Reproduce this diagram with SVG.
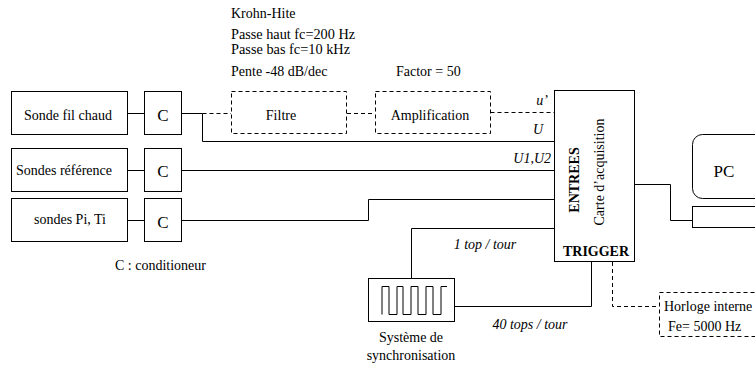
<svg xmlns="http://www.w3.org/2000/svg" width="755" height="366" viewBox="0 0 755 366">
<style>
  text { font-family: "Liberation Serif", "Times New Roman", serif; font-size: 14px; fill: #000; }
  .box { fill: #fff; stroke: #000; stroke-width: 1; }
  .dbox { fill: none; stroke: #000; stroke-width: 1; stroke-dasharray: 4,3; }
  .ln { fill: none; stroke: #000; stroke-width: 1; }
  .dl { fill: none; stroke: #000; stroke-width: 1; stroke-dasharray: 4,3; }
  .mid { text-anchor: middle; }
  .it { font-style: italic; }
  .bd { font-weight: bold; }
  .big { font-size: 17px; }
  .tight { font-size: 13.6px; }
</style>
<rect width="755" height="366" fill="#fff"/>

<g id="annotations">
  <text x="231" y="18">Krohn-Hite</text>
  <text x="231" y="39" class="tight" textLength="124" lengthAdjust="spacingAndGlyphs">Passe haut fc=200 Hz</text>
  <text x="231" y="54" class="tight" textLength="119" lengthAdjust="spacingAndGlyphs">Passe bas fc=10 kHz</text>
  <text x="231" y="76">Pente -48 dB/dec</text>
  <text x="396" y="76">Factor = 50</text>
  <text x="115" y="270">C : conditioneur</text>
</g>

<g id="connectors">
  <path class="ln" d="M127.5,113.5 H144.5"/>
  <path class="ln" d="M127.5,170.5 H144.5"/>
  <path class="ln" d="M127.5,220.5 H144.5"/>
  <path class="ln" d="M181.5,113.5 H202.5 V141.5 H554.5"/>
  <path class="dl" d="M202.5,113.5 H231"/>
  <path class="dl" d="M347,113.5 H375"/>
  <path class="dl" d="M490.5,112.5 H554.5"/>
  <path class="ln" d="M181.5,170.5 H554.5"/>
  <path class="ln" d="M181.5,220.5 H368.5 V199.5 H554.5"/>
  <path class="ln" d="M554.5,228.5 H411.5 V278"/>
  <path class="ln" d="M454.5,306.5 H591.5 V262"/>
  <path class="dl" d="M612.5,262 V306.5 H659"/>
  <path class="ln" d="M635,184.5 H670.5 V220.5 H692"/>
  <text x="548" y="105" class="it" text-anchor="end">u’</text>
  <text x="543" y="134" class="it" text-anchor="end">U</text>
  <text x="551" y="163" class="it" text-anchor="end">U1,U2</text>
  <text x="485" y="249" class="it mid">1 top / tour</text>
  <text x="530" y="329" class="it mid">40 tops / tour</text>
</g>

<g id="sonde-fil-chaud">
  <rect class="box" x="11.5" y="91.5" width="116" height="43"/>
  <text x="68" y="120" class="mid">Sonde fil chaud</text>
</g>
<g id="c1">
  <rect class="box" x="144.5" y="91.5" width="37" height="43"/>
  <text x="163" y="121" class="mid big">C</text>
</g>
<g id="sondes-reference">
  <rect class="box" x="11.5" y="148.5" width="116" height="43"/>
  <text x="64" y="175" class="mid">Sondes référence</text>
</g>
<g id="c2">
  <rect class="box" x="144.5" y="148.5" width="37" height="43"/>
  <text x="163" y="177" class="mid big">C</text>
</g>
<g id="sondes-pi-ti">
  <rect class="box" x="11.5" y="198.5" width="116" height="43"/>
  <text x="70" y="224" class="mid">sondes Pi, Ti</text>
</g>
<g id="c3">
  <rect class="box" x="144.5" y="198.5" width="37" height="43"/>
  <text x="163" y="228" class="mid big">C</text>
</g>
<g id="filtre">
  <rect class="dbox" x="231.5" y="91.5" width="115" height="42"/>
  <text x="281" y="120" class="mid">Filtre</text>
</g>
<g id="amplification">
  <rect class="dbox" x="375.5" y="91.5" width="115" height="42"/>
  <text x="430" y="120" class="mid">Amplification</text>
</g>
<g id="carte-acquisition">
  <rect class="box" x="554.5" y="90.5" width="80" height="171"/>
  <text x="579" y="180" class="mid bd" transform="rotate(-90 579 180)">ENTREES</text>
  <text x="604" y="172" class="mid" transform="rotate(-90 604 172)">Carte d’acquisition</text>
  <text x="596" y="256" class="mid bd">TRIGGER</text>
</g>
<g id="pc">
  <rect class="box" x="692.5" y="134.5" width="80" height="64" rx="10" ry="10"/>
  <rect class="box" x="692.5" y="206.5" width="80" height="21"/>
  <text x="724" y="177" class="mid" style="font-size:17px">PC</text>
</g>
<g id="synchronisation">
  <rect class="box" x="368.5" y="278.5" width="86" height="43"/>
  <path class="ln" d="M382,314.5 V286.5 H389 V314.5 H397 V286.5 H403 V314.5 H411 V286.5 H418 V314.5 H426 V286.5 H433 V314.5 H441 V286.5 H447"/>
  <text x="411" y="342" class="mid">Système de</text>
  <text x="411" y="360" class="mid">synchronisation</text>
</g>
<g id="horloge">
  <rect class="dbox" x="659.5" y="292.5" width="110" height="44"/>
  <text x="664" y="311">Horloge interne</text>
  <text x="668" y="331">Fe= 5000 Hz</text>
</g>
</svg>
